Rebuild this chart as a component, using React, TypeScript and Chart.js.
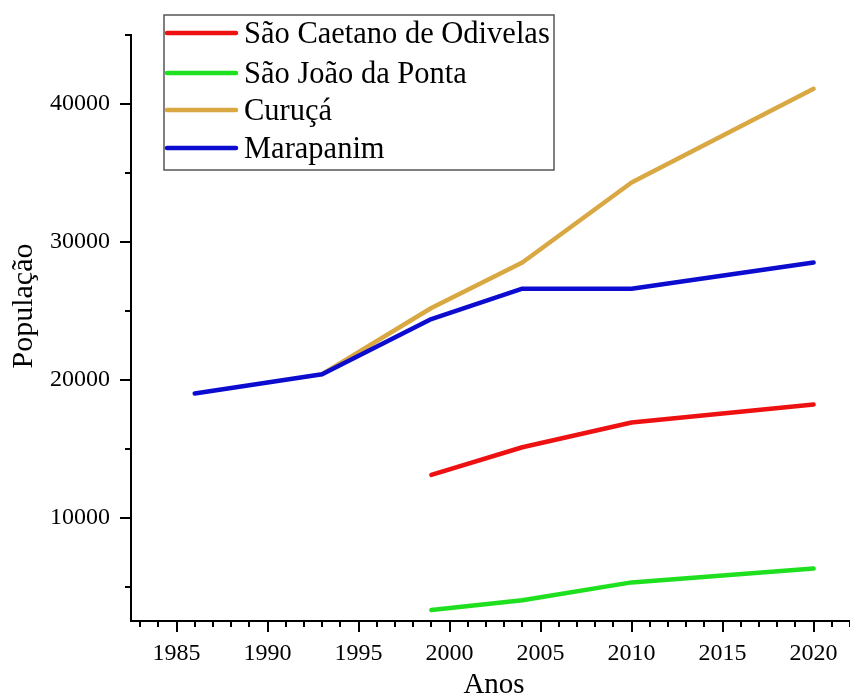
import React, { useEffect, useRef } from "react";
import { Chart, registerables } from "chart.js";

Chart.register(...registerables);

// ---- data ----
const seriesNames = ["São Caetano de Odivelas", "São João da Ponta", "Curuçá", "Marapanim"];
const seriesColors = ["#ee1111", "#1fe01f", "#d9a843", "#0c0cd0"];

const saoCaetanoYears = [1999, 2004, 2010, 2020];
const saoCaetanoValues = [13100, 15100, 16900, 18200];

const saoJoaoYears = [1999, 2004, 2010, 2020];
const saoJoaoValues = [3300, 4000, 5300, 6300];

const curucaYears = [1993, 1999, 2004, 2010, 2020];
const curucaValues = [20400, 25200, 28500, 34300, 41100];

const marapanimYears = [1986, 1993, 1999, 2004, 2010, 2020];
const marapanimValues = [19000, 20400, 24400, 26600, 26600, 28500];

const xMajorTicks = [1985, 1990, 1995, 2000, 2005, 2010, 2015, 2020];
const yMajorTicks = [10000, 20000, 30000, 40000];
const xMinorTicks = [1983, 1984, 1986, 1987, 1988, 1989, 1991, 1992, 1993, 1994, 1996, 1997, 1998, 1999, 2001, 2002, 2003, 2004, 2006, 2007, 2008, 2009, 2011, 2012, 2013, 2014, 2016, 2017, 2018, 2019, 2021, 2022];
const yMinorTicks = [5000, 15000, 25000, 35000, 45000];

const xTitle = "Anos";
const yTitle = "População";

const FONT = "'Liberation Serif', 'Times New Roman', serif";

const toPoints = (xs: number[], ys: number[]) => xs.map((x, i) => ({ x, y: ys[i] }));

export default function App() {
  const ref = useRef<HTMLCanvasElement | null>(null);

  useEffect(() => {
    if (!ref.current) return;
    const seriesData = [
      toPoints(saoCaetanoYears, saoCaetanoValues),
      toPoints(saoJoaoYears, saoJoaoValues),
      toPoints(curucaYears, curucaValues),
      toPoints(marapanimYears, marapanimValues),
    ];

    const extras = {
      id: "extras",
      afterDraw(chart: any) {
        const ctx = chart.ctx;
        const xs = chart.scales.x;
        const ys = chart.scales.y;
        const area = chart.chartArea;
        ctx.save();
        // minor ticks
        ctx.strokeStyle = "#000";
        ctx.lineWidth = 2;
        ctx.beginPath();
        xMinorTicks.forEach((v) => {
          const px = Math.round(xs.getPixelForValue(v));
          ctx.moveTo(px, area.bottom);
          ctx.lineTo(px, area.bottom + 6);
        });
        yMinorTicks.forEach((v) => {
          const py = Math.round(ys.getPixelForValue(v));
          ctx.moveTo(area.left - 6, py);
          ctx.lineTo(area.left, py);
        });
        ctx.stroke();

        // axis titles
        ctx.fillStyle = "#000";
        ctx.font = `29px ${FONT}`;
        ctx.textAlign = "center";
        ctx.textBaseline = "alphabetic";
        ctx.fillText(xTitle, 494, 693);

        ctx.save();
        ctx.translate(32, 306);
        ctx.rotate(-Math.PI / 2);
        ctx.font = `30px ${FONT}`;
        ctx.fillText(yTitle, 0, 0);
        ctx.restore();

        // legend
        const bx = 164, by = 15, bw = 390, bh = 155;
        ctx.strokeStyle = "#555";
        ctx.lineWidth = 1.5;
        ctx.fillStyle = "#fff";
        ctx.fillRect(bx, by, bw, bh);
        ctx.strokeRect(bx, by, bw, bh);
        const rowY = [33, 73, 110, 148];
        ctx.font = `30.5px ${FONT}`;
        ctx.textAlign = "left";
        ctx.textBaseline = "middle";
        seriesNames.forEach((name, i) => {
          ctx.strokeStyle = seriesColors[i];
          ctx.lineWidth = 4.5;
          ctx.lineCap = "round";
          ctx.beginPath();
          ctx.moveTo(167, rowY[i]);
          ctx.lineTo(236, rowY[i]);
          ctx.stroke();
          ctx.fillStyle = "#000";
          ctx.fillText(name, 244, rowY[i] + 2);
        });
        ctx.restore();
      },
    };

    const chart = new Chart(ref.current, {
      type: "line",
      data: {
        datasets: seriesNames.map((name, i) => ({
          label: name,
          data: seriesData[i],
          borderColor: seriesColors[i],
          backgroundColor: seriesColors[i],
          borderWidth: 4.5,
          pointRadius: 0,
          tension: 0,
          borderCapStyle: "round" as const,
          borderJoinStyle: "round" as const,
          fill: false,
          order: i === 2 ? 1 : 0,
        })),
      },
      options: {
        animation: false,
        responsive: false,
        layout: { padding: { top: 35, right: 0, bottom: 0, left: 0 } },
        plugins: { legend: { display: false }, tooltip: { enabled: false } },
        scales: {
          x: {
            type: "linear",
            min: 1982.5,
            max: 2022,
            afterFit: (s: any) => { s.height = 74; },
            afterBuildTicks: (s: any) => { s.ticks = xMajorTicks.map((v) => ({ value: v })); },
            grid: { display: true, drawOnChartArea: false, drawTicks: true, tickLength: 11, color: "#000", lineWidth: 2 },
            border: { display: true, color: "#000", width: 2 },
            ticks: { color: "#000", font: { family: FONT, size: 24 }, padding: 7, maxRotation: 0, autoSkip: false, callback: (v: any) => String(v) },
          },
          y: {
            type: "linear",
            min: 2500,
            max: 45000,
            afterFit: (s: any) => { s.width = 131; },
            afterBuildTicks: (s: any) => { s.ticks = yMajorTicks.map((v) => ({ value: v })); },
            grid: { display: true, drawOnChartArea: false, drawTicks: true, tickLength: 11, color: "#000", lineWidth: 2 },
            border: { display: true, color: "#000", width: 2 },
            ticks: { color: "#000", font: { family: FONT, size: 24 }, padding: 10, autoSkip: false, callback: (v: any) => String(v) },
          },
        },
      },
      plugins: [extras],
    });
    return () => chart.destroy();
  }, []);

  return (
    <div style={{ position: "fixed", left: 0, top: 0, width: 850, height: 695, background: "#fff" }}>
      <canvas ref={ref} width={850} height={695} />
    </div>
  );
}
